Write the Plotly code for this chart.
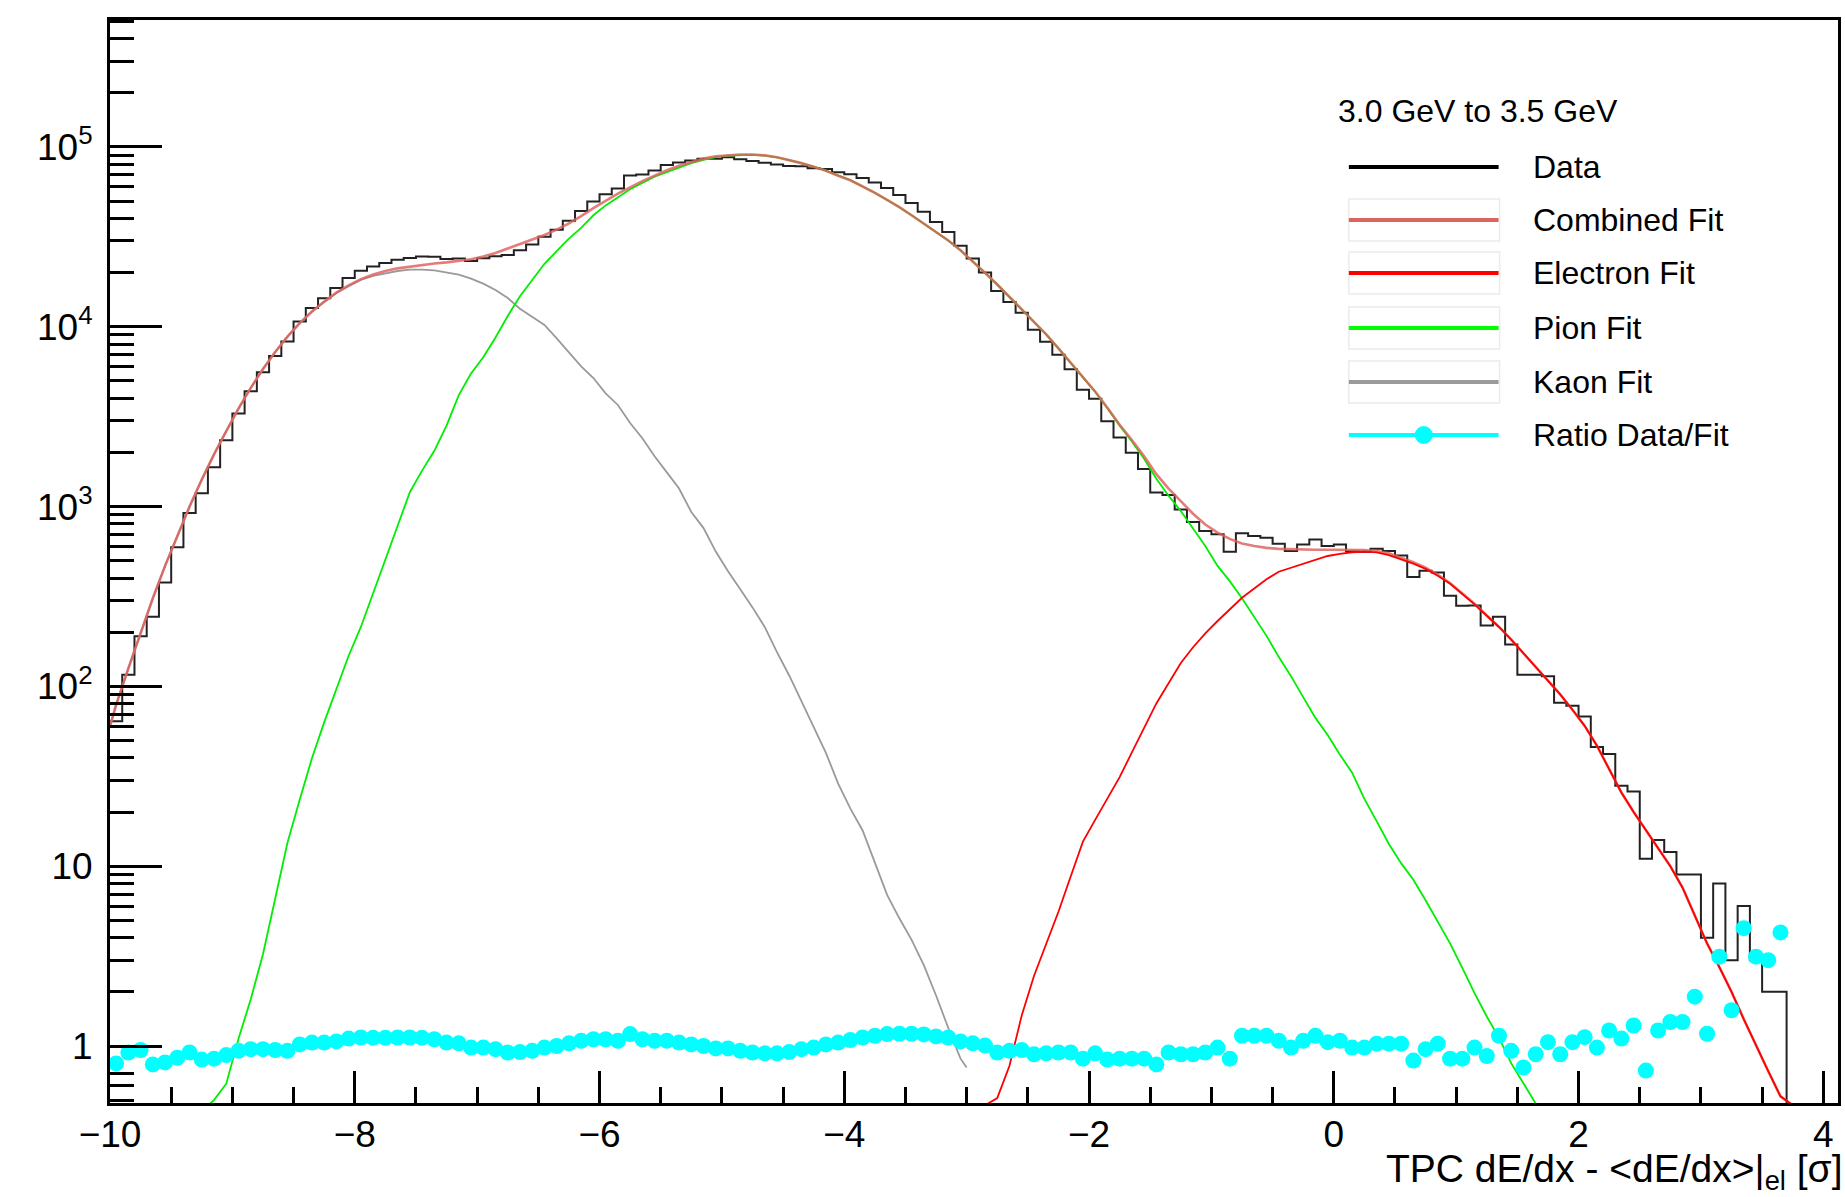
import numpy as np
import plotly.graph_objects as go

# ---------------- data ----------------
bin_edges = np.round(np.linspace(-10.0, 3.7, 138), 2)      # 0.1 wide bins
bin_centers = np.round(np.linspace(-9.95, 3.65, 137), 2)

data_counts = [
    64, 116, 190, 244, 378, 594, 920, 1186, 1656, 2339,
    3296, 4385, 5585, 6887, 8279, 10690, 12700, 14420, 16410, 18660,
    20510, 21630, 22650, 23550, 24100, 24550, 24490, 23820, 23990, 23230,
    24040, 24660, 25060, 26670, 28710, 31700, 34670, 38900, 44060, 49770,
    54580, 58750, 69340, 70310, 73960, 79250, 82040, 83950, 86100, 86100,
    87500, 85310, 83560, 81660, 79800, 78340, 77980, 76030, 75340, 72280,
    70470, 67140, 63390, 59020, 54080, 48750, 43550, 38280, 33650, 28180,
    23990, 20040, 15810, 13740, 11970, 9638, 8260, 6982, 5808, 4457,
    3972, 2979, 2421, 1991, 1618, 1197, 1159, 964, 820, 731,
    701, 561, 711, 687, 671, 622, 566, 615, 656, 604,
    615, 564, 561, 582, 566, 535, 406, 439, 430, 319,
    281, 282, 218, 244, 171, 116, 116, 114, 81, 78,
    68, 46, 42, 28, 26, 11, 14, 12, 9, 9,
    4, 8, 3, 6, 3, 2, 2,
]

ratio_data_fit = [
    0.80, 0.92, 0.95, 0.79, 0.81, 0.86, 0.92, 0.84, 0.85, 0.89,
    0.94, 0.96, 0.96, 0.95, 0.94, 1.02, 1.045, 1.045, 1.06, 1.10,
    1.115, 1.11, 1.11, 1.115, 1.115, 1.11, 1.09, 1.045, 1.035, 0.98,
    0.98, 0.96, 0.92, 0.925, 0.94, 0.98, 1.0, 1.035, 1.07, 1.09,
    1.09, 1.07, 1.165, 1.09, 1.07, 1.07, 1.045, 1.02, 1.0, 0.97,
    0.97, 0.94, 0.92, 0.91, 0.91, 0.925, 0.96, 0.98, 1.02, 1.045,
    1.08, 1.115, 1.14, 1.165, 1.17, 1.17, 1.16, 1.13, 1.115, 1.06,
    1.035, 1.005, 0.92, 0.94, 0.95, 0.90, 0.91, 0.92, 0.92, 0.85,
    0.91, 0.84, 0.85, 0.85, 0.85, 0.79, 0.92, 0.90, 0.90, 0.92,
    0.98, 0.85, 1.14, 1.14, 1.14, 1.07, 0.98, 1.07, 1.14, 1.05,
    1.07, 0.98, 0.98, 1.03, 1.03, 1.03, 0.83, 0.96, 1.03, 0.85,
    0.85, 0.98, 0.88, 1.14, 0.94, 0.76, 0.90, 1.05, 0.90, 1.05,
    1.12, 0.98, 1.22, 1.10, 1.30, 0.73, 1.22, 1.36, 1.36, 1.88,
    1.17, 3.14, 1.58, 4.52, 3.14, 3.0, 4.28,
]

# fit curves sampled at the bin centres (plus their end points)
combined_x = [-10.0] + list(bin_centers) + [3.75]
combined_fit = [
    60,
    79, 126, 200, 309, 468, 692, 1000, 1413, 1950, 2630,
    3508, 4571, 5821, 7244, 8810, 10470, 12160, 13800, 15490, 16980,
    18410, 19500, 20420, 21130, 21630, 22130, 22490, 22800, 23170, 23710,
    24550, 25700, 27230, 28840, 30550, 32360, 34670, 37580, 41210, 45710,
    50120, 54950, 59570, 64570, 69180, 74130, 78520, 82220, 86100, 88720,
    90160, 90780, 90780, 89740, 87700, 84720, 81280, 77620, 73790, 69180,
    65310, 60260, 55590, 50700, 46240, 41690, 37580, 33880, 30200, 26610,
    23170, 19950, 17180, 14620, 12590, 10720, 9078, 7586, 6310, 5248,
    4365, 3548, 2851, 2344, 1905, 1514, 1259, 1072, 912, 794,
    716, 661, 624, 603, 589, 582, 578, 575, 575, 575,
    575, 575, 573, 565, 550, 519, 490, 457, 417, 376,
    331, 288, 248, 214, 182, 153, 129, 108, 90.2, 74.1,
    60.3, 46.8, 34.7, 25.7, 20.0, 15.8, 12.6, 10.0, 7.59, 5.25,
    3.72, 2.75, 2.00, 1.41, 1.00, 0.724, 0.525,
    0.468,
]

kaon_x = [-10.0] + list(bin_centers[0:70]) + [-3.0]
kaon_fit = [
    60,
    79, 126, 200, 309, 468, 692, 1000, 1413, 1950, 2630,
    3508, 4571, 5821, 7244, 8810, 10450, 12130, 13710, 15390, 16830,
    18200, 19170, 19720, 20420, 20800, 20800, 20560, 20090, 19500, 18530,
    17380, 16030, 14450, 12590, 11350, 10230, 8610, 7244, 6026, 5188,
    4266, 3673, 2917, 2399, 1905, 1549, 1259, 933, 759, 562,
    437, 347, 275, 214, 155, 115, 83.2, 60.3, 42.7, 28.8,
    20.9, 15.8, 10.5, 6.92, 5.13, 3.89, 2.82, 1.91, 1.26, 0.85,
    0.76,
]

pion_x = [-9.2] + list(bin_centers[8:117])
pion_fit = [
    0.468,
    0.50, 0.617,
    1.096, 1.82, 3.24, 6.61, 13.5, 23.4, 39.8, 63.1, 97.7, 148,
    214, 331, 513, 794, 1202, 1585, 2042, 2818, 4169, 5495,
    6761, 8710, 11480, 14790, 18200, 22390, 26300, 30900, 35480, 41690,
    47320, 52480, 58210, 63100, 68390, 72440, 76740, 81280, 84720, 87700,
    89540, 90360, 90360, 89540, 87500, 84530, 81280, 77620, 73790, 69180,
    65310, 60260, 55590, 50700, 46240, 41690, 37580, 33880, 30200, 26610,
    23170, 19950, 17180, 14620, 12590, 10720, 9078, 7586, 6310, 5234,
    4347, 3524, 2820, 2301, 1846, 1429, 1148, 944, 759, 603,
    468, 385, 309, 243, 191, 146, 114, 87.1, 66.8, 53.7,
    41.7, 33.1, 23.7, 17.8, 13.3, 10.4, 8.41, 6.46, 4.90, 3.72,
    2.72, 1.97, 1.46, 1.11, 0.80, 0.617, 0.479,
]

electron_x = [-2.85] + list(bin_centers[72:137]) + [3.75]
electron_fit = [
    0.468,
    0.513,
    0.776, 1.48, 2.45, 3.67, 5.58, 8.77, 13.7,
    18.1, 24.0, 31.3, 42.9, 58.7, 80.4, 104, 135, 165, 197,
    231, 269, 311, 350, 394, 434, 457, 482, 506, 531,
    546, 557, 562, 557, 537, 508, 482, 450, 412, 372,
    328, 286, 247, 214, 182, 153, 129, 108, 90.2, 74.1,
    60.3, 46.8, 34.7, 25.7, 20.0, 15.8, 12.6, 10.0, 7.59, 5.25,
    3.72, 2.75, 2.00, 1.41, 1.00, 0.724, 0.525,
    0.468,
]

x_tickvals = [-10, -8, -6, -4, -2, 0, 2, 4]
x_ticktext = ["\u221210", "\u22128", "\u22126", "\u22124", "\u22122", "0", "2", "4"]
y_tickvals = [1, 10, 100, 1000, 10000, 100000]
y_ticktext = ["1", "10", "10<sup>2</sup>", "10<sup>3</sup>", "10<sup>4</sup>", "10<sup>5</sup>"]
y_minor = [0.5, 0.6, 0.7] + [m * 10 ** e for e in range(0, 6) for m in range(2, 10) if m * 10 ** e <= 5e5]

legend_header = "3.0 GeV to 3.5 GeV"
legend_names = ["Data", "Combined Fit", "Electron Fit", "Pion Fit", "Kaon Fit", "Ratio Data/Fit"]

# ---------------- styles ----------------
FONT = "Liberation Sans, Arial, Helvetica, sans-serif"
C_DATA = "#222222"
C_COMB = "rgba(222,95,90,0.82)"
C_COMB_LEG = "#dc6460"
C_ELEC = "#ff0000"
C_PION = "#00ee00"
C_KAON = "#9a9a9a"
C_RATIO = "#00ffff"

fig = go.Figure()

# data histogram: step line over the bin edges, dropping to the empty bin at the end
hist_y = list(data_counts) + [1e-3]
fig.add_trace(go.Scatter(x=bin_edges, y=hist_y, mode="lines", line_shape="hv",
                         line=dict(color=C_DATA, width=2), name=legend_names[0], showlegend=False))
fig.add_trace(go.Scatter(x=kaon_x, y=kaon_fit, mode="lines",
                         line=dict(color=C_KAON, width=1.8), name=legend_names[4], showlegend=False))
fig.add_trace(go.Scatter(x=pion_x, y=pion_fit, mode="lines",
                         line=dict(color=C_PION, width=1.8), name=legend_names[3], showlegend=False))
fig.add_trace(go.Scatter(x=combined_x, y=combined_fit, mode="lines",
                         line=dict(color=C_COMB, width=2.6), name=legend_names[1], showlegend=False))
fig.add_trace(go.Scatter(x=electron_x, y=electron_fit, mode="lines",
                         line=dict(color=C_ELEC, width=1.8), name=legend_names[2], showlegend=False))
fig.add_trace(go.Scatter(x=bin_centers, y=ratio_data_fit, mode="markers",
                         marker=dict(color=C_RATIO, size=16, line=dict(width=0)),
                         name=legend_names[5], showlegend=False))

W, H = 1845, 1197
ML, MR, MT, MB = 110, 4, 20, 94
PW, PH = W - ML - MR, H - MT - MB


def px(xp):
    return (xp - ML) / PW


def py(yp):
    return (H - MB - yp) / PH


shapes = []
annotations = []

# manual ROOT-style legend
annotations.append(dict(x=px(1338), y=py(111), xref="paper", yref="paper", text=legend_header,
                        showarrow=False, xanchor="left", yanchor="middle",
                        font=dict(family=FONT, size=32, color="black")))
rows = [167, 220, 273, 328, 382, 435]
leg_colors = ["black", C_COMB_LEG, C_ELEC, "#00ff00", C_KAON, C_RATIO]
for i, (name, row) in enumerate(zip(legend_names, rows)):
    if 1 <= i <= 4:
        shapes.append(dict(type="rect", xref="paper", yref="paper",
                           x0=px(1351), x1=px(1502), y0=py(row + 21), y1=py(row - 21),
                           line=dict(color="#ebebeb", width=1.5), fillcolor="rgba(0,0,0,0)"))
    shapes.append(dict(type="line", xref="paper", yref="paper",
                       x0=px(1351), x1=px(1501), y0=py(row), y1=py(row),
                       line=dict(color=leg_colors[i], width=4)))
    annotations.append(dict(x=px(1533), y=py(row), xref="paper", yref="paper", text=name,
                            showarrow=False, xanchor="left", yanchor="middle",
                            font=dict(family=FONT, size=32, color="black")))
# ratio marker in the legend
shapes.append(dict(type="circle", xref="paper", yref="paper", xsizemode="pixel", ysizemode="pixel",
                   xanchor=px(1426), yanchor=py(435), x0=-9, x1=9, y0=-9, y1=9,
                   fillcolor=C_RATIO, line=dict(color=C_RATIO, width=0)))

# x-axis title (ROOT style, right aligned under the axis)
annotations.append(dict(x=1.0, y=py(1145), xref="paper", yref="paper", xshift=6,
                        text="TPC dE/dx - &lt;dE/dx&gt;|<sub>el</sub> [\u03c3]",
                        showarrow=False, xanchor="right", yanchor="top",
                        font=dict(family=FONT, size=39, color="black")))

fig.update_layout(
    width=W, height=H,
    margin=dict(l=ML, r=MR, t=MT, b=MB, pad=0),
    paper_bgcolor="white", plot_bgcolor="white",
    showlegend=False,
    font=dict(family=FONT, size=37, color="black"),
    shapes=shapes, annotations=annotations,
)
fig.update_xaxes(
    range=[-10, 4.12], showgrid=False, zeroline=False,
    showline=True, linecolor="black", linewidth=3, mirror=True,
    tickmode="array", tickvals=x_tickvals, ticktext=x_ticktext,
    ticks="inside", ticklen=32, tickwidth=3, tickcolor="black",
    ticklabelstandoff=-3,
    minor=dict(ticks="inside", ticklen=16, tickwidth=3, tickcolor="black", dtick=0.5, tick0=0, showgrid=False),
    tickfont=dict(family=FONT, size=37, color="black"),
)
fig.update_yaxes(
    type="log", range=[-0.317, 5.706], showgrid=False, zeroline=False,
    showline=True, linecolor="black", linewidth=3, mirror=True,
    tickmode="array", tickvals=y_tickvals, ticktext=y_ticktext,
    ticks="inside", ticklen=52, tickwidth=3, tickcolor="black",
    ticklabelstandoff=7,
    minor=dict(ticks="inside", ticklen=24, tickwidth=3, tickcolor="black",
               tickmode="array", tickvals=y_minor, showgrid=False),
    tickfont=dict(family=FONT, size=37, color="black"),
)

fig.write_html("out.html")
